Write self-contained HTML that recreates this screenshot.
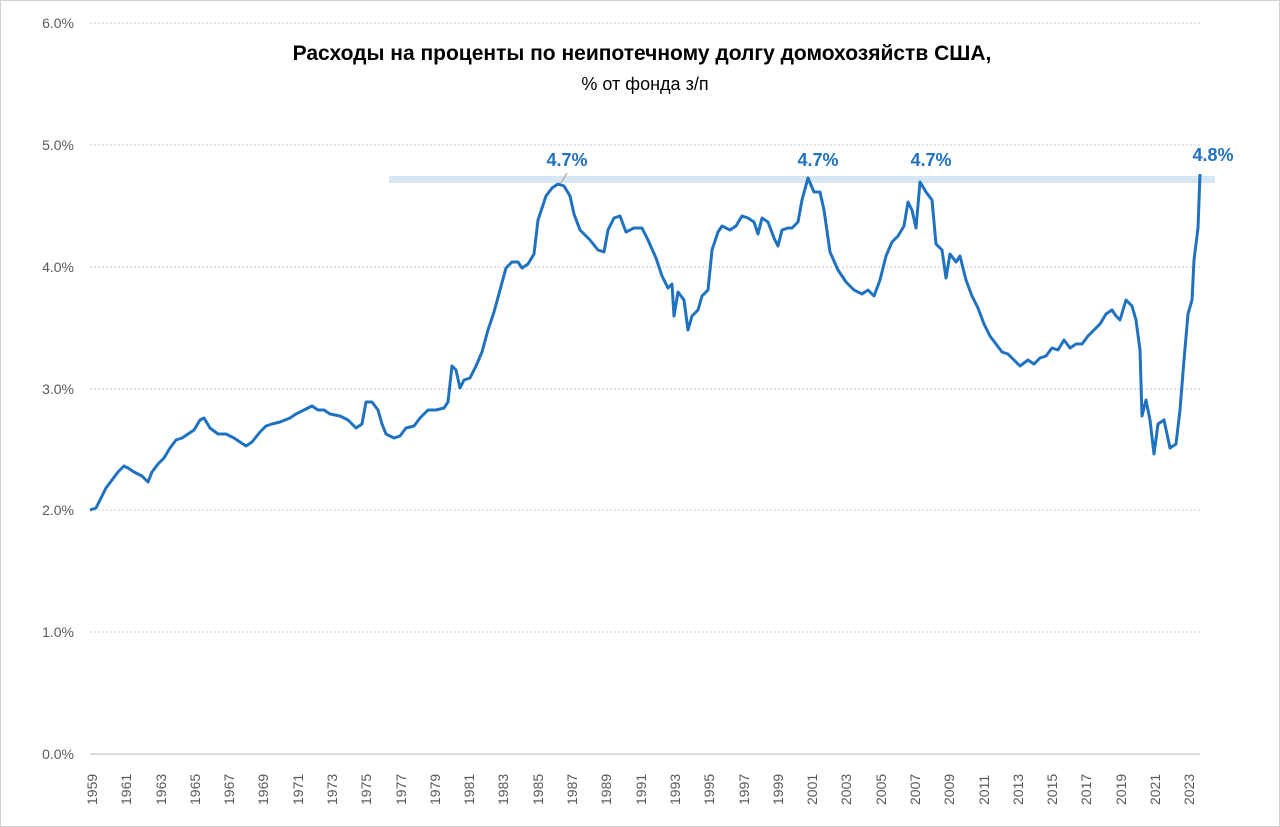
<!DOCTYPE html>
<html><head><meta charset="utf-8"><style>
body{margin:0;background:#fff;}
svg{display:block;font-family:"Liberation Sans","DejaVu Sans",sans-serif;}
</style></head><body>
<svg width="1280" height="827" viewBox="0 0 1280 827">
<rect x="0.5" y="0.5" width="1279" height="826" fill="#fff" stroke="#d0d0d0"/>
<g stroke="#c8c8c8" stroke-dasharray="2,2" stroke-width="1">
<line x1="90" y1="23" x2="1200" y2="23"/><line x1="90" y1="145" x2="1200" y2="145"/>
<line x1="90" y1="267" x2="1200" y2="267"/><line x1="90" y1="389" x2="1200" y2="389"/>
<line x1="90" y1="510" x2="1200" y2="510"/><line x1="90" y1="632" x2="1200" y2="632"/>
</g>
<line x1="90" y1="754" x2="1200" y2="754" stroke="#d0d0d0" stroke-width="1.5"/>
<g fill="#595959" font-size="14" text-anchor="end">
<text x="74" y="28">6.0%</text><text x="74" y="150">5.0%</text><text x="74" y="272">4.0%</text>
<text x="74" y="394">3.0%</text><text x="74" y="515">2.0%</text><text x="74" y="637">1.0%</text><text x="74" y="759">0.0%</text>
</g>
<g fill="#595959" font-size="14" id="xl"></g>
<text x="642" y="60" text-anchor="middle" font-size="21" font-weight="bold" fill="#000">Расходы на проценты по неипотечному долгу домохозяйств США,</text>
<text x="645" y="90" text-anchor="middle" font-size="18" fill="#000">% от фонда з/п</text>
<rect x="389" y="176" width="826" height="7" fill="#d6e6f2"/>
<line x1="561" y1="183" x2="567" y2="173" stroke="#999" stroke-width="1"/>
<polyline fill="none" stroke="#1f72bf" stroke-width="3" stroke-linejoin="round" points="90,510 96,508 100,500 106,488 112,480 118,472 124,466 128,468 134,472 142,476 148,482 152,472 158,464 164,458 170,448 176,440 182,438 188,434 194,430 200,420 204,418 210,428 218,434 226,434 234,438 240,442 246,446 252,442 260,432 266,426 272,424 280,422 290,418 296,414 304,410 312,406 318,410 324,410 330,414 340,416 348,420 356,428 362,424 366,402 372,402 378,410 382,424 386,434 394,438 400,436 406,428 414,426 420,418 428,410 436,410 444,408 448,402 452,366 456,370 460,388 464,380 470,378 476,366 482,352 488,330 494,312 500,290 506,268 512,262 518,262 522,268 528,264 534,254 538,220 546,196 552,188 558,184 564,186 570,196 574,214 580,230 590,240 598,250 604,252 608,230 614,218 620,216 626,232 634,228 642,228 648,240 656,258 662,276 668,288 672,284 674,316 678,292 684,300 688,330 692,316 698,310 702,296 708,290 712,250 718,232 722,226 730,230 736,226 742,216 748,218 754,222 758,234 762,218 768,222 774,238 778,246 782,230 788,228 792,228 798,222 802,200 808,178 814,192 820,192 824,210 830,252 838,270 846,282 854,290 862,294 868,290 874,296 880,280 886,256 892,242 898,236 904,226 908,202 912,210 916,228 920,182 926,192 932,200 936,244 942,250 946,278 950,254 956,262 960,256 966,280 972,296 978,308 984,324 990,336 996,344 1002,352 1008,354 1014,360 1020,366 1028,360 1034,364 1040,358 1046,356 1052,348 1058,350 1064,340 1070,348 1076,344 1082,344 1088,336 1094,330 1100,324 1106,314 1112,310 1116,316 1120,320 1126,300 1132,306 1136,320 1140,350 1142,416 1146,400 1150,420 1154,454 1158,424 1164,420 1170,448 1176,444 1180,410 1184,360 1188,314 1192,300 1194,260 1198,228 1200,174"/>
<g fill="#1f72bf" font-size="18" font-weight="bold" text-anchor="middle">
<text x="567" y="166">4.7%</text><text x="818" y="166">4.7%</text><text x="931" y="166">4.7%</text><text x="1213" y="161">4.8%</text>
</g>
<g fill="#595959" font-size="14">
<text transform="translate(97,805) rotate(-90)">1959</text>
<text transform="translate(131,805) rotate(-90)">1961</text>
<text transform="translate(166,805) rotate(-90)">1963</text>
<text transform="translate(200,805) rotate(-90)">1965</text>
<text transform="translate(234,805) rotate(-90)">1967</text>
<text transform="translate(268,805) rotate(-90)">1969</text>
<text transform="translate(303,805) rotate(-90)">1971</text>
<text transform="translate(337,805) rotate(-90)">1973</text>
<text transform="translate(371,805) rotate(-90)">1975</text>
<text transform="translate(406,805) rotate(-90)">1977</text>
<text transform="translate(440,805) rotate(-90)">1979</text>
<text transform="translate(474,805) rotate(-90)">1981</text>
<text transform="translate(508,805) rotate(-90)">1983</text>
<text transform="translate(543,805) rotate(-90)">1985</text>
<text transform="translate(577,805) rotate(-90)">1987</text>
<text transform="translate(611,805) rotate(-90)">1989</text>
<text transform="translate(646,805) rotate(-90)">1991</text>
<text transform="translate(680,805) rotate(-90)">1993</text>
<text transform="translate(714,805) rotate(-90)">1995</text>
<text transform="translate(749,805) rotate(-90)">1997</text>
<text transform="translate(783,805) rotate(-90)">1999</text>
<text transform="translate(817,805) rotate(-90)">2001</text>
<text transform="translate(851,805) rotate(-90)">2003</text>
<text transform="translate(886,805) rotate(-90)">2005</text>
<text transform="translate(920,805) rotate(-90)">2007</text>
<text transform="translate(954,805) rotate(-90)">2009</text>
<text transform="translate(989,805) rotate(-90)">2011</text>
<text transform="translate(1023,805) rotate(-90)">2013</text>
<text transform="translate(1057,805) rotate(-90)">2015</text>
<text transform="translate(1091,805) rotate(-90)">2017</text>
<text transform="translate(1126,805) rotate(-90)">2019</text>
<text transform="translate(1160,805) rotate(-90)">2021</text>
<text transform="translate(1194,805) rotate(-90)">2023</text>
</g>
</svg>
</body></html>
